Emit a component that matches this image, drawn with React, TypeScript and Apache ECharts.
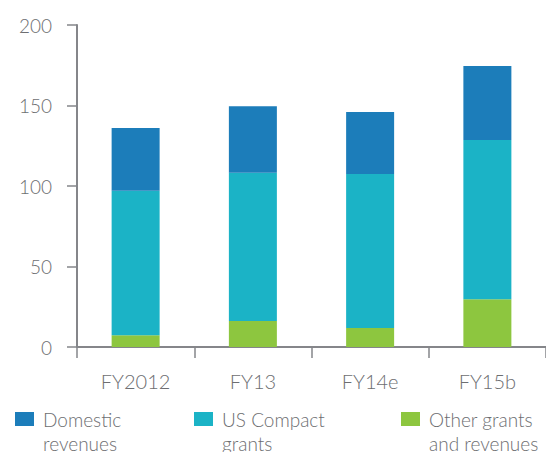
import React, { useEffect, useRef } from "react";
import * as echarts from "echarts";

const categories = ["FY2012", "FY13", "FY14e", "FY15b"];
const otherGrants = [7.3, 16.2, 11.8, 29.7];
const usCompact = [89.7, 92.0, 95.6, 98.8];
const domestic = [39.0, 41.4, 38.5, 46.0];
const yTicks = { min: 0, max: 200, interval: 50 };

const seriesNames = ["Domestic revenues", "US Compact grants", "Other grants and revenues"];
const legendLabels = ["Domestic\nrevenues", "US Compact\ngrants", "Other grants\nand revenues"];

const TEXT = "#6d6e71";
const AXIS = "#85868a";
const FONT = "Lato";
const WEIGHT = 300;

export default function App() {
  const ref = useRef<HTMLDivElement>(null);
  useEffect(() => {
    const chart = echarts.init(ref.current!, undefined, { renderer: "svg" });
    const legendLefts = [15, 194, 401];
    const colors = ["#1c7dba", "#1bb3c6", "#8dc63f"];
    const mkLegend = (i: number) => ({
      data: [seriesNames[i]],
      left: legendLefts[i],
      top: 383,
      padding: 0,
      orient: "horizontal",
      itemWidth: 19,
      itemHeight: 14,
      icon: "rect",
      selectedMode: false,
      formatter: () => "\n" + legendLabels[i],
      textStyle: {
        color: TEXT,
        fontFamily: FONT,
        fontWeight: WEIGHT,
        fontSize: 19,
        lineHeight: 24,
        padding: [0, 0, 0, 4],
      },
    });
    chart.setOption({
      animation: false,
      color: colors,
      grid: { left: 77, top: 25, bottom: 105, width: 472, containLabel: false },
      legend: [mkLegend(0), mkLegend(1), mkLegend(2)],
      xAxis: {
        type: "category",
        data: categories,
        boundaryGap: true,
        axisLine: { lineStyle: { color: AXIS, width: 2 } },
        axisTick: { show: true, length: 11, lineStyle: { color: AXIS, width: 1.5 } },
        axisLabel: { color: TEXT, fontFamily: FONT, fontWeight: WEIGHT, fontSize: 20, margin: 24 },
      },
      yAxis: {
        type: "value",
        min: yTicks.min,
        max: yTicks.max,
        interval: yTicks.interval,
        splitLine: { show: false },
        axisLine: { show: true, lineStyle: { color: AXIS, width: 2 } },
        axisTick: { show: true, length: 10, lineStyle: { color: AXIS, width: 1.5 } },
        axisLabel: { color: TEXT, fontFamily: FONT, fontWeight: WEIGHT, fontSize: 19, margin: 25 },
      },
      series: [
        { name: seriesNames[2], type: "bar", stack: "t", data: otherGrants, barWidth: 48, itemStyle: { color: colors[2] } },
        { name: seriesNames[1], type: "bar", stack: "t", data: usCompact, barWidth: 48, itemStyle: { color: colors[1] } },
        { name: seriesNames[0], type: "bar", stack: "t", data: domestic, barWidth: 48, itemStyle: { color: colors[0] } },
      ],
    });
    return () => chart.dispose();
  }, []);
  return (
    <div
      ref={ref}
      style={{ position: "fixed", left: 0, top: 0, width: 546, height: 452, background: "#fff" }}
    />
  );
}
